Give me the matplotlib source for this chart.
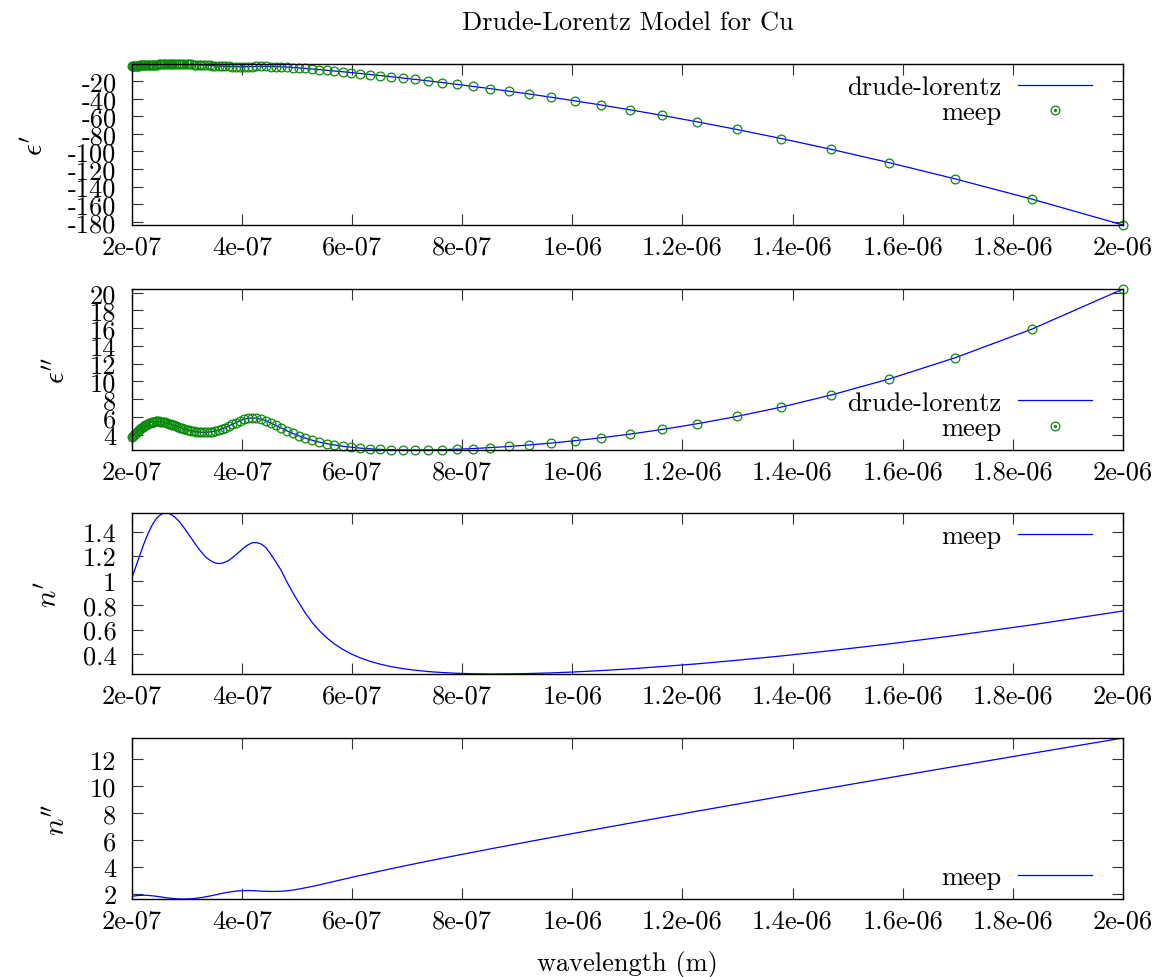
import numpy as np
import matplotlib
matplotlib.use("Agg")
import matplotlib.pyplot as plt
from matplotlib.ticker import FuncFormatter
from matplotlib.lines import Line2D
from matplotlib.legend_handler import HandlerTuple

plt.rcParams.update({
    "font.family": "cmr10",
    "mathtext.fontset": "cm",
    "axes.unicode_minus": False,
    "axes.formatter.use_mathtext": True,
    "font.size": 19,
})

# Sample wavelengths (um), uniform in frequency from 0.5 to 5 1/um
wavelength_um = [
    2.00000, 1.83486, 1.69492, 1.57480, 1.47059, 1.37931, 1.29870, 1.22699, 1.16279, 1.10497,
    1.05263, 1.00503, 0.96154, 0.92166, 0.88496, 0.85106, 0.81967, 0.79051, 0.76336, 0.73801,
    0.71429, 0.69204, 0.67114, 0.65147, 0.63291, 0.61538, 0.59880, 0.58309, 0.56818, 0.55402,
    0.54054, 0.52770, 0.51546, 0.50378, 0.49261, 0.48193, 0.47170, 0.46189, 0.45249, 0.44346,
    0.43478, 0.42644, 0.41841, 0.41068, 0.40323, 0.39604, 0.38911, 0.38241, 0.37594, 0.36969,
    0.36364, 0.35778, 0.35211, 0.34662, 0.34130, 0.33613, 0.33113, 0.32626, 0.32154, 0.31696,
    0.31250, 0.30817, 0.30395, 0.29985, 0.29586, 0.29197, 0.28818, 0.28450, 0.28090, 0.27739,
    0.27397, 0.27064, 0.26738, 0.26420, 0.26110, 0.25806, 0.25510, 0.25221, 0.24938, 0.24661,
    0.24390, 0.24125, 0.23866, 0.23613, 0.23364, 0.23121, 0.22883, 0.22650, 0.22422, 0.22198,
    0.21978, 0.21763, 0.21552, 0.21345, 0.21142, 0.20942, 0.20747, 0.20555, 0.20367, 0.20182,
    0.20000,
]

# Real part of the permittivity
eps_real = [
    -183.80, -154.38, -131.23, -112.71, -97.67, -85.29, -74.98, -66.30, -58.93, -52.62,
    -47.17, -42.43, -38.27, -34.63, -31.40, -28.52, -25.94, -23.63, -21.55, -19.66,
    -17.94, -16.37, -14.94, -13.62, -12.40, -11.28, -10.25, -9.29, -8.40, -7.58,
    -6.82, -6.12, -5.49, -4.92, -4.44, -4.02, -3.68, -3.44, -3.29, -3.23,
    -3.21, -3.25, -3.37, -3.42, -3.46, -3.48, -3.43, -3.33, -3.20, -3.04,
    -2.86, -2.65, -2.45, -2.25, -2.04, -1.85, -1.66, -1.48, -1.32, -1.17,
    -1.03, -0.90, -0.79, -0.70, -0.62, -0.55, -0.50, -0.47, -0.44, -0.44,
    -0.45, -0.47, -0.50, -0.54, -0.60, -0.67, -0.74, -0.83, -0.92, -1.01,
    -1.11, -1.22, -1.32, -1.42, -1.52, -1.61, -1.70, -1.79, -1.87, -1.94,
    -2.01, -2.07, -2.12, -2.17, -2.21, -2.24, -2.26, -2.27, -2.28, -2.28,
    -2.28,
]

# Imaginary part of the permittivity
eps_imag = [
    20.41, 15.90, 12.66, 10.27, 8.48, 7.11, 6.06, 5.24, 4.59, 4.07,
    3.66, 3.33, 3.06, 2.85, 2.68, 2.55, 2.44, 2.37, 2.32, 2.29,
    2.28, 2.29, 2.31, 2.35, 2.41, 2.49, 2.59, 2.70, 2.84, 3.00,
    3.17, 3.38, 3.61, 3.87, 4.14, 4.44, 4.76, 5.04, 5.32, 5.59,
    5.75, 5.85, 5.89, 5.85, 5.73, 5.54, 5.37, 5.18, 4.96, 4.80,
    4.65, 4.52, 4.43, 4.36, 4.31, 4.28, 4.27, 4.28, 4.30, 4.33,
    4.38, 4.43, 4.50, 4.57, 4.64, 4.72, 4.80, 4.88, 4.96, 5.04,
    5.12, 5.19, 5.26, 5.32, 5.38, 5.42, 5.46, 5.48, 5.50, 5.50,
    5.49, 5.47, 5.44, 5.40, 5.35, 5.28, 5.21, 5.13, 5.04, 4.94,
    4.84, 4.73, 4.62, 4.51, 4.39, 4.28, 4.16, 4.05, 3.93, 3.82,
    3.70,
]

# Real part of the refractive index
n_real = [
    0.752, 0.639, 0.552, 0.483, 0.429, 0.385, 0.350, 0.321, 0.299, 0.280,
    0.266, 0.255, 0.247, 0.242, 0.239, 0.238, 0.240, 0.244, 0.250, 0.258,
    0.269, 0.282, 0.298, 0.318, 0.341, 0.369, 0.401, 0.439, 0.483, 0.534,
    0.592, 0.659, 0.734, 0.818, 0.901, 0.988, 1.080, 1.152, 1.215, 1.271,
    1.298, 1.310, 1.308, 1.290, 1.266, 1.237, 1.210, 1.185, 1.163, 1.150,
    1.141, 1.139, 1.143, 1.153, 1.168, 1.186, 1.208, 1.234, 1.260, 1.288,
    1.318, 1.346, 1.373, 1.400, 1.425, 1.448, 1.471, 1.490, 1.506, 1.521,
    1.532, 1.541, 1.547, 1.550, 1.551, 1.549, 1.544, 1.536, 1.526, 1.514,
    1.499, 1.482, 1.464, 1.443, 1.421, 1.398, 1.374, 1.349, 1.324, 1.298,
    1.271, 1.244, 1.217, 1.190, 1.164, 1.138, 1.113, 1.089, 1.065, 1.041,
    1.017,
]

# Imaginary part of the refractive index
n_imag = [
    13.578, 12.441, 11.469, 10.627, 9.892, 9.243, 8.666, 8.149, 7.683, 7.259,
    6.873, 6.519, 6.191, 5.890, 5.608, 5.346, 5.099, 4.867, 4.649, 4.441,
    4.244, 4.056, 3.876, 3.704, 3.538, 3.379, 3.226, 3.079, 2.938, 2.804,
    2.677, 2.563, 2.459, 2.365, 2.294, 2.240, 2.202, 2.190, 2.189, 2.200,
    2.212, 2.229, 2.253, 2.255, 2.250, 2.237, 2.212, 2.177, 2.133, 2.089,
    2.039, 1.986, 1.938, 1.891, 1.845, 1.805, 1.767, 1.733, 1.705, 1.681,
    1.662, 1.647, 1.637, 1.631, 1.628, 1.628, 1.632, 1.638, 1.647, 1.658,
    1.671, 1.685, 1.701, 1.717, 1.734, 1.751, 1.768, 1.785, 1.802, 1.818,
    1.833, 1.847, 1.859, 1.871, 1.881, 1.889, 1.895, 1.900, 1.903, 1.905,
    1.904, 1.902, 1.899, 1.894, 1.888, 1.880, 1.870, 1.859, 1.847, 1.834,
    1.821,
]

x_ticks = [2e-7, 4e-7, 6e-7, 8e-7, 1e-6, 1.2e-6, 1.4e-6, 1.6e-6, 1.8e-6, 2e-6]
x_tick_labels = ["2e-07", "4e-07", "6e-07", "8e-07", "1e-06",
                 "1.2e-06", "1.4e-06", "1.6e-06", "1.8e-06", "2e-06"]
eps_real_ticks = [-180, -160, -140, -120, -100, -80, -60, -40, -20]
eps_imag_ticks = [4, 6, 8, 10, 12, 14, 16, 18, 20]
n_real_ticks = [0.4, 0.6, 0.8, 1.0, 1.2, 1.4]
n_imag_ticks = [2, 4, 6, 8, 10, 12]

title = "Drude-Lorentz Model for Cu"
x_label = "wavelength (m)"

LINE_BLUE = "#0000ff"
MARK_GREEN = "#0a8a0a"

wl = np.array(wavelength_um) * 1e-6

W, H = 1156, 978
fig = plt.figure(figsize=(W / 100, H / 100), dpi=100)

left_px, right_px = 131.7, 1123.0
panel_rows = [(65, 226), (290, 451), (514, 675), (739, 900)]


def make_axes(top_px, bottom_px):
    return fig.add_axes([left_px / W, 1 - bottom_px / H,
                         (right_px - left_px) / W, (bottom_px - top_px) / H])


fmt = FuncFormatter(lambda v, p: "%g" % v)


def style_axes(ax, yticks, ylabel):
    ax.set_xlim(wl.min(), wl.max())
    ax.set_xticks(x_ticks)
    ax.set_xticklabels(x_tick_labels)
    ax.set_yticks(yticks)
    ax.yaxis.set_major_formatter(fmt)
    ax.tick_params(direction="in", length=8, width=0.8, top=True, right=True,
                   labelsize=19, color="#333333")
    ax.tick_params(axis="y", pad=11)
    ax.tick_params(axis="x", pad=7)
    for s in ax.spines.values():
        s.set_linewidth(1.0)
    ax.set_ylabel(ylabel, fontsize=21, labelpad=14)


legend_kw = dict(frameon=False, markerfirst=False, handlelength=2.8,
                 handletextpad=0.65, labelspacing=0.06, borderpad=0.0,
                 borderaxespad=0.0, fontsize=19)

# legend key for the sampled points: open circle with a centre dot
meep_key = (
    Line2D([], [], ls="none", marker="o", ms=6.3, mfc="none", mec=MARK_GREEN, mew=0.9),
    Line2D([], [], ls="none", marker="o", ms=1.3, color=MARK_GREEN),
)


def eps_panel(ax, values, yticks, ylabel, legend_loc, anchor):
    line, = ax.plot(wl, values, color=LINE_BLUE, lw=0.9)
    ax.plot(wl, values, ls="none", marker="o", ms=6.3, mfc="none",
            mec=MARK_GREEN, mew=0.9, clip_on=False)
    ax.set_ylim(min(values), max(values))
    style_axes(ax, yticks, ylabel)
    ax.legend([line, meep_key], ["drude-lorentz", "meep"], loc=legend_loc,
              bbox_to_anchor=anchor, handler_map={tuple: HandlerTuple(ndivide=1)},
              **legend_kw)


def n_panel(ax, values, yticks, ylabel, legend_loc, anchor):
    line, = ax.plot(wl, values, color=LINE_BLUE, lw=0.9)
    ax.set_ylim(min(values), max(values))
    style_axes(ax, yticks, ylabel)
    ax.legend([line], ["meep"], loc=legend_loc, bbox_to_anchor=anchor, **legend_kw)


ax1 = make_axes(*panel_rows[0])
ax2 = make_axes(*panel_rows[1])
ax3 = make_axes(*panel_rows[2])
ax4 = make_axes(*panel_rows[3])

anchor_x = (1092 - left_px) / (right_px - left_px)
top_anchor = 0.931
bottom_anchor = 0.062
eps_panel(ax1, eps_real, eps_real_ticks, r"$\epsilon'$", "upper right", (anchor_x, top_anchor))
eps_panel(ax2, eps_imag, eps_imag_ticks, r"$\epsilon''$", "lower right", (anchor_x, bottom_anchor))
n_panel(ax3, n_real, n_real_ticks, r"$n'$", "upper right", (anchor_x, top_anchor))
n_panel(ax4, n_imag, n_imag_ticks, r"$n''$", "lower right", (anchor_x, bottom_anchor))

cx = (left_px + right_px) / 2 / W
fig.text(cx, 1 - 24 / H, title, ha="center", va="center", fontsize=19)
fig.text(cx, 1 - 965 / H, x_label, ha="center", va="center", fontsize=19)

fig.savefig("out.png", dpi=100)
